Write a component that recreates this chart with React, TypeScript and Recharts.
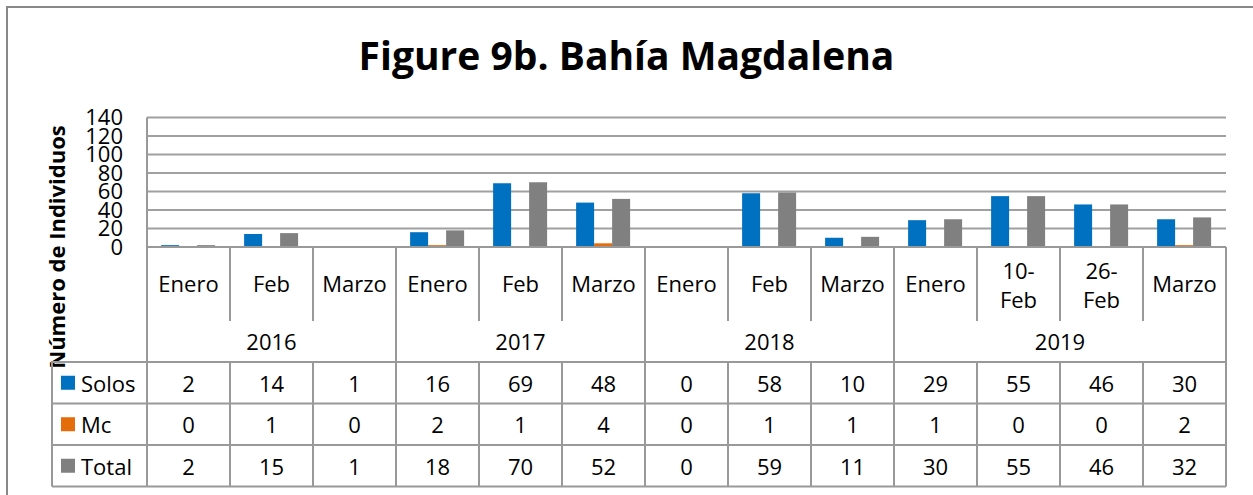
import { BarChart, Bar, XAxis, YAxis, CartesianGrid } from "recharts"

const months = ["Enero", "Feb", "Marzo", "Enero", "Feb", "Marzo", "Enero", "Feb", "Marzo", "Enero", "10-\nFeb", "26-\nFeb", "Marzo"]
const years = ["2016", "2016", "2016", "2017", "2017", "2017", "2018", "2018", "2018", "2019", "2019", "2019", "2019"]
const solos = [2, 14, 1, 16, 69, 48, 0, 58, 10, 29, 55, 46, 30]
const mc = [0, 1, 0, 2, 1, 4, 0, 1, 1, 1, 0, 0, 2]
const total = [2, 15, 1, 18, 70, 52, 0, 59, 11, 30, 55, 46, 32]
const yTicks = [0, 20, 40, 60, 80, 100, 120, 140]

const series = [
  { key: "solos", name: "Solos", color: "#0070C0", values: solos },
  { key: "mc", name: "Mc", color: "#E46C0A", values: mc },
  { key: "total", name: "Total", color: "#808080", values: total },
]

const data = months.map((m, i) => ({ id: "c" + i, month: m, year: years[i], solos: solos[i], mc: mc[i], total: total[i] }))

const W = 1253, H = 495
const PL = 147, PR = 1226, PT = 117.5, PB = 247
const band = (PR - PL) / months.length
const LINE = "#999"
const FONT = "'Open Sans', Lato, sans-serif"
const FS = 22
const rowY = [362, 403.5, 445, 486.5]

// draws one column of the data table under each category
function TableTick(props: any) {
  const { x, index } = props
  const i = index as number
  const right = x + band / 2
  const left = x - band / 2
  const lastOfYear = i === months.length - 1 || years[i + 1] !== years[i]
  const firstOfYear = i === 0 || years[i - 1] !== years[i]
  const lines = months[i].split("\n")
  let yearLabel = null
  if (firstOfYear) {
    let n = 0
    while (i + n < years.length && years[i + n] === years[i]) n++
    yearLabel = <text x={left + (n * band) / 2} y={341} textAnchor="middle" dominantBaseline="central" fontSize={FS} fill="#000">{years[i]}</text>
  }
  return (
    <g fontFamily={FONT}>
      {lines.length === 1
        ? <text x={x} y={283} textAnchor="middle" dominantBaseline="central" fontSize={FS} fill="#000">{lines[0]}</text>
        : lines.map((l, k) => <text key={k} x={x} y={270 + k * 29} textAnchor="middle" dominantBaseline="central" fontSize={FS} fill="#000">{l}</text>)}
      {yearLabel}
      <line x1={right} x2={right} y1={PB} y2={lastOfYear ? rowY[3] : 321} stroke={LINE} strokeWidth={2} />
      {i === 0 && <line x1={left} x2={left} y1={PB} y2={rowY[3]} stroke={LINE} strokeWidth={2} />}
      {i > 0 && <line x1={left} x2={left} y1={rowY[0]} y2={rowY[3]} stroke={LINE} strokeWidth={2} />}
      {series.map((s, r) => (
        <text key={s.key} x={x} y={(rowY[r] + rowY[r + 1]) / 2} textAnchor="middle" dominantBaseline="central" fontSize={FS} fill="#000">{s.values[i]}</text>
      ))}
      {i === 0 && (
        <g>
          {rowY.map((ry, r) => <line key={r} x1={52} x2={PR} y1={ry} y2={ry} stroke={LINE} strokeWidth={2} />)}
          <line x1={52} x2={52} y1={rowY[0]} y2={rowY[3]} stroke={LINE} strokeWidth={2} />
          {series.map((s, r) => {
            const cy = (rowY[r] + rowY[r + 1]) / 2
            return (
              <g key={s.key}>
                <rect x={61} y={cy - 7} width={14} height={14} fill={s.color} />
                <text x={81} y={cy} dominantBaseline="central" fontSize={FS} fill="#000">{s.name}</text>
              </g>
            )
          })}
        </g>
      )}
    </g>
  )
}

export default function App() {
  return (
    <div style={{ position: "relative", width: W, height: H, background: "#fff", fontFamily: FONT }}>
      <style>{"body{margin:0}"}</style>
      <div style={{ position: "absolute", left: 6, top: 6, right: 0, height: 2, background: "#888" }} />
      <div style={{ position: "absolute", left: 6, top: 6, bottom: 0, width: 2, background: "#888" }} />
      <div style={{ position: "absolute", left: 0, width: W, top: 31, textAlign: "center", fontSize: 39, fontWeight: 700, lineHeight: "48px", color: "#000" }}>
        Figure 9b. Bahía Magdalena
      </div>
      <div style={{ position: "absolute", left: 56, top: 247, transform: "translate(-50%, -50%) rotate(-90deg)", whiteSpace: "nowrap", fontSize: FS, fontWeight: 700, color: "#000" }}>
        Número de Individuos
      </div>
      <div style={{ position: "absolute", left: 0, top: 0 }}>
        <BarChart width={W} height={H} data={data} barGap={0} barCategoryGap="17%"
          margin={{ top: PT, right: W - PR, bottom: 10, left: 47 }}>
          <CartesianGrid vertical={false} stroke="#A0A0A0" strokeWidth={2} />
          <XAxis dataKey="id" height={H - PB - 10} interval={0} tickLine={false} tickSize={0} tickMargin={0}
            axisLine={{ stroke: LINE, strokeWidth: 2 }} tick={<TableTick />} />
          <YAxis width={100} domain={[0, 140]} ticks={yTicks} interval={0} tickLine={false} tickSize={0} tickMargin={24}
            axisLine={{ stroke: LINE, strokeWidth: 2 }} tick={{ fontSize: FS, fill: "#000", fontFamily: FONT }} />
          {series.map(s => (
            <Bar key={s.key} dataKey={s.key} name={s.name} fill={s.color} isAnimationActive={false} />
          ))}
        </BarChart>
      </div>
    </div>
  )
}
